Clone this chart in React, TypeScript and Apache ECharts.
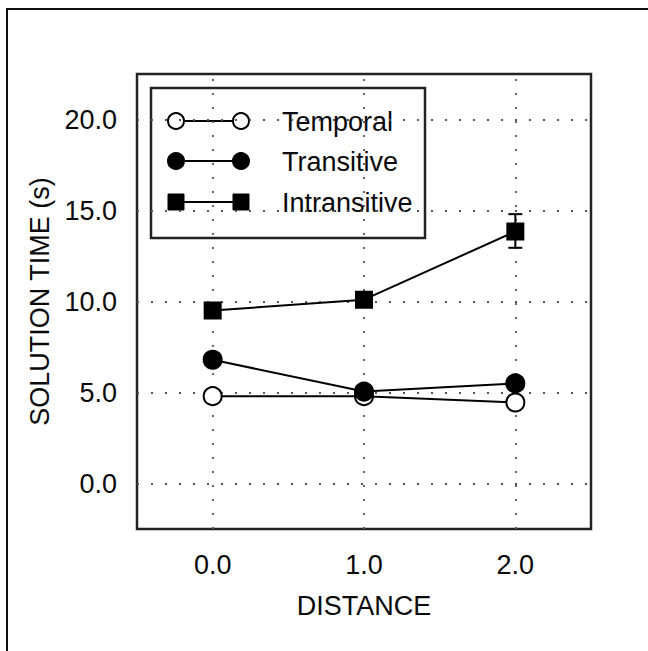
import React, { useEffect, useRef } from "react";
import * as echarts from "echarts";

const distances = [0, 1, 2];
const xTickLabels = ["0.0", "1.0", "2.0"];
const yTickValues = [0, 5, 10, 15, 20];
const seriesNames = ["Temporal", "Transitive", "Intransitive"];
const temporal = [4.8, 4.8, 4.45];
const transitive = [6.8, 5.05, 5.5];
const intransitive = [9.5, 10.1, 13.85];
const intransitiveErrLow = [null, null, 12.95];
const intransitiveErrHigh = [null, null, 14.8];

const FONT = "'Liberation Sans', Arial, Helvetica, sans-serif";
const TEXT = "#0a0a0a";
const FS = 27;

export default function App() {
  const ref = useRef<HTMLDivElement>(null);
  useEffect(() => {
    if (!ref.current) return;
    const chart = echarts.init(ref.current, undefined, { renderer: "svg" });

    const pts = (vals: number[]) => distances.map((d, i) => [d, vals[i]]);
    const errData = distances
      .map((d, i) => [d, intransitiveErrLow[i], intransitiveErrHigh[i]])
      .filter((r) => r[1] != null);

    const markerStyles = [
      { symbol: "circle", size: 18, fill: "#fff" },
      { symbol: "circle", size: 18, fill: "#000" },
      { symbol: "rect", size: 16, fill: "#000" },
    ];
    const values = [temporal, transitive, intransitive];

    const lineSeries = seriesNames.map((name, k) => ({
      name,
      type: "line",
      data: pts(values[k]),
      symbol: markerStyles[k].symbol,
      symbolSize: markerStyles[k].size,
      showAllSymbol: true,
      z: 5 + k,
      itemStyle: {
        color: markerStyles[k].fill,
        borderColor: "#000",
        borderWidth: 2,
        opacity: 1,
      },
      lineStyle: { color: "#000", width: 2 },
    }));

    const lgX = 151, lgY = 88, lgW = 274, lgH = 150;
    const rowY = [121, 161, 202];
    const legendChildren: any[] = [
      {
        type: "rect",
        shape: { x: lgX, y: lgY, width: lgW, height: lgH },
        style: { fill: "#fff", stroke: "#222", lineWidth: 2.5 },
      },
    ];
    seriesNames.forEach((name, k) => {
      const y = rowY[k];
      legendChildren.push({
        type: "line",
        shape: { x1: 176, y1: y, x2: 241, y2: y },
        style: { stroke: "#000", lineWidth: 2 },
      });
      [176, 241].forEach((cx) => {
        if (markerStyles[k].symbol === "circle") {
          legendChildren.push({
            type: "circle",
            shape: { cx, cy: y, r: 8 },
            style: { fill: markerStyles[k].fill, stroke: "#000", lineWidth: 2 },
          });
        } else {
          legendChildren.push({
            type: "rect",
            shape: { x: cx - 8, y: y - 8, width: 16, height: 16 },
            style: { fill: "#000", stroke: "#000", lineWidth: 1 },
          });
        }
      });
      legendChildren.push({
        type: "text",
        x: 282,
        y: y + 1,
        style: {
          text: name,
          fill: TEXT,
          font: `${FS}px ${FONT}`,
          verticalAlign: "middle",
          align: "left",
        },
      });
    });

    const option: any = {
      animation: false,
      backgroundColor: "#fff",
      textStyle: { fontFamily: FONT },
      grid: {
        left: 137,
        right: 57,
        top: 74,
        bottom: 122,
        show: true,
        borderColor: "#222",
        borderWidth: 2.5,
        backgroundColor: "transparent",
        containLabel: false,
      },
      xAxis: {
        type: "value",
        min: -0.5,
        max: 2.5,
        interval: 0.5,
        name: "DISTANCE",
        nameLocation: "middle",
        nameGap: 63,
        nameTextStyle: { fontSize: FS, color: TEXT, fontFamily: FONT },
        axisLine: { show: false },
        axisTick: { show: false },
        splitLine: { show: false },
        axisLabel: {
          fontSize: FS,
          color: TEXT,
          fontFamily: FONT,
          margin: 22,
          formatter: (v: number) => {
            const i = distances.findIndex((d) => Math.abs(d - v) < 1e-9);
            return i >= 0 ? xTickLabels[i] : "";
          },
        },
      },
      yAxis: {
        type: "value",
        min: -2.5,
        max: 22.5,
        interval: 2.5,
        name: "SOLUTION TIME (s)",
        nameLocation: "middle",
        nameGap: 82,
        nameTextStyle: { fontSize: FS, color: TEXT, fontFamily: FONT },
        axisLine: { show: false },
        axisTick: { show: false },
        splitLine: { show: false },
        axisLabel: {
          fontSize: FS,
          color: TEXT,
          fontFamily: FONT,
          margin: 20,
          padding: [8, 0, 0, 0],
          formatter: (v: number) =>
            yTickValues.some((t) => Math.abs(t - v) < 1e-9) ? v.toFixed(1) : "",
        },
      },
      series: [
        {
          name: "gridlines",
          type: "line",
          data: [],
          silent: true,
          z: 1,
          markLine: {
            silent: true,
            symbol: ["none", "none"],
            label: { show: false },
            lineStyle: { type: [2, 12], color: "#555", width: 1.8 },
            data: [
              ...distances.map((d) => ({ xAxis: d })),
              ...yTickValues.map((t) => ({ yAxis: t })),
            ],
          },
        },
        lineSeries[0],
        lineSeries[1],
        {
          name: "error",
          type: "custom",
          z: 6,
          data: errData,
          renderItem: (params: any, api: any) => {
            const x = api.value(0);
            const lo = api.coord([x, api.value(1)]);
            const hi = api.coord([x, api.value(2)]);
            const cw = 7;
            const style = { stroke: "#000", lineWidth: 2 };
            return {
              type: "group",
              children: [
                { type: "line", shape: { x1: lo[0], y1: lo[1], x2: hi[0], y2: hi[1] }, style },
                { type: "line", shape: { x1: lo[0] - cw, y1: lo[1], x2: lo[0] + cw, y2: lo[1] }, style },
                { type: "line", shape: { x1: hi[0] - cw, y1: hi[1], x2: hi[0] + cw, y2: hi[1] }, style },
              ],
            };
          },
        },
        lineSeries[2],
      ],
      graphic: [
        {
          type: "polyline",
          shape: { points: [[7, 660], [7, 9], [660, 9]] },
          style: { stroke: "#111", lineWidth: 2, fill: "none" },
          z: 100,
        },
        { type: "group", z: 100, children: legendChildren },
      ],
    };

    chart.setOption(option);
    return () => chart.dispose();
  }, []);

  return (
    <div
      ref={ref}
      style={{ position: "fixed", left: 0, top: 0, width: 648, height: 651, background: "#fff" }}
    />
  );
}
